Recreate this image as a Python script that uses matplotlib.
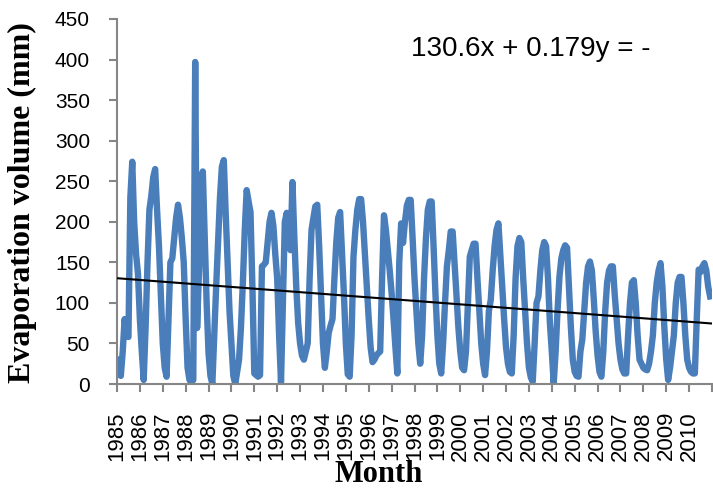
import matplotlib
matplotlib.use("Agg")
import matplotlib.pyplot as plt
import numpy as np

years = [str(y) for y in range(1985, 2011)]

# Monthly evaporation (mm), one row per year
evap_1985 = [30, 12, 10, 40, 80, 60, 58, 230, 274, 200, 160, 136]
evap_1986 = [80, 40, 5, 70, 150, 215, 232, 255, 265, 215, 170, 110]
evap_1987 = [50, 20, 9, 80, 150, 155, 180, 205, 221, 205, 180, 150]
evap_1988 = [80, 20, 5, 2, 5, 397, 69, 140, 230, 262, 180, 100]
evap_1989 = [38, 10, 0, 60, 120, 175, 230, 268, 276, 210, 150, 90]
evap_1990 = [50, 10, 0, 15, 30, 70, 125, 190, 239, 225, 212, 120]
evap_1991 = [13, 11, 9, 11, 145, 147, 150, 175, 200, 211, 195, 160]
evap_1992 = [130, 60, 2, 100, 200, 211, 170, 165, 249, 180, 120, 75]
evap_1993 = [50, 35, 30, 40, 50, 130, 190, 205, 219, 221, 170, 110]
evap_1994 = [50, 20, 40, 63, 72, 80, 130, 175, 205, 212, 160, 110]
evap_1995 = [50, 12, 9, 60, 157, 190, 215, 228, 228, 200, 160, 120]
evap_1996 = [80, 45, 27, 30, 35, 38, 40, 130, 208, 190, 165, 140]
evap_1997 = [112, 80, 45, 13, 150, 198, 174, 200, 220, 227, 227, 180]
evap_1998 = [130, 90, 50, 25, 60, 130, 180, 215, 225, 225, 170, 110]
evap_1999 = [60, 25, 13, 50, 100, 145, 165, 188, 188, 150, 110, 70]
evap_2000 = [40, 20, 17, 40, 100, 157, 165, 173, 173, 130, 90, 50]
evap_2001 = [25, 11, 40, 90, 104, 140, 170, 190, 198, 160, 120, 80]
evap_2002 = [45, 25, 15, 13, 60, 130, 170, 180, 175, 130, 90, 50]
evap_2003 = [20, 8, 3, 50, 100, 108, 140, 165, 175, 170, 130, 75]
evap_2004 = [40, 1, 40, 90, 132, 155, 165, 171, 168, 120, 70, 30]
evap_2005 = [15, 10, 9, 40, 55, 90, 125, 145, 151, 140, 105, 65]
evap_2006 = [35, 15, 9, 40, 90, 125, 140, 145, 145, 110, 80, 50]
evap_2007 = [30, 18, 13, 13, 60, 100, 125, 128, 100, 60, 30, 25]
evap_2008 = [20, 18, 17, 25, 40, 60, 100, 125, 140, 149, 120, 70]
evap_2009 = [30, 5, 20, 40, 60, 100, 125, 132, 132, 100, 60, 30]
evap_2010 = [20, 15, 13, 13, 80, 141, 138, 145, 149, 140, 120, 108]

evap = (evap_1985 + evap_1986 + evap_1987 + evap_1988 + evap_1989 + evap_1990 +
        evap_1991 + evap_1992 + evap_1993 + evap_1994 + evap_1995 + evap_1996 +
        evap_1997 + evap_1998 + evap_1999 + evap_2000 + evap_2001 + evap_2002 +
        evap_2003 + evap_2004 + evap_2005 + evap_2006 + evap_2007 + evap_2008 +
        evap_2009 + evap_2010)

trend_intercept = 130.6
trend_slope = -0.179
equation_text = "130.6x + 0.179y = -"

n = len(evap)
months = np.arange(n)

fig = plt.figure(figsize=(7.13, 4.88), dpi=100)
ax = fig.add_axes([117/713, 1-384/488, (712-117)/713, (384-19)/488])

ax.plot(months, evap, color="#4A7EBB", lw=4.6, solid_joinstyle="round", zorder=2)
tx = np.array([0, n])
ax.plot(tx, trend_intercept + trend_slope * (tx + 1), color="black", lw=1.5, zorder=3)

ax.set_xlim(0, n)
ax.set_ylim(0, 450)
ax.set_yticks(np.arange(0, 451, 50))
ax.set_xticks(np.arange(0, n + 1, 12))
ax.set_xticklabels(years + [""], rotation=90, fontsize=16, family="Liberation Sans")
for lab in ax.get_yticklabels():
    lab.set_fontsize(15)
    lab.set_family("Liberation Sans")

for side in ["top", "right"]:
    ax.spines[side].set_visible(False)
for side in ["left", "bottom"]:
    ax.spines[side].set_color("#868686")
    ax.spines[side].set_linewidth(1.5)
ax.tick_params(axis="both", direction="out", length=5.5, width=1.5, color="#868686",
               labelcolor="black", pad=14)

ax.set_xlabel("Month", family="Liberation Serif", fontweight="bold", fontsize=22, va="center")
ax.xaxis.set_label_coords((379-117)/595, (384-475)/365)
ax.set_ylabel("Evaporation volume (mm)", family="Liberation Serif", fontweight="bold",
              fontsize=23, va="center")
ax.yaxis.set_label_coords((22-117)/595, (384-203)/365)

fig.text(411/713, 1-49/488, equation_text, family="Liberation Sans", fontsize=20,
         ha="left", va="center")

fig.savefig("out.png", dpi=100)
